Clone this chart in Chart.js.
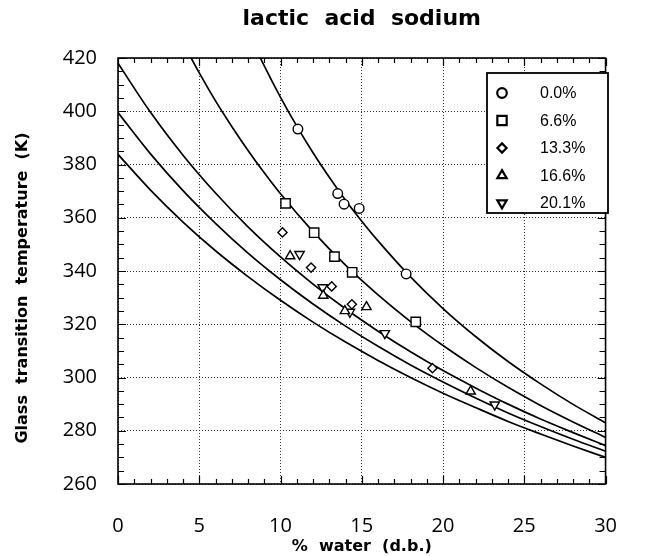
<!DOCTYPE html>
<html><head><meta charset="utf-8">
<script src="https://cdn.jsdelivr.net/npm/chart.js@4/dist/chart.umd.min.js"></script>
<style>html,body{margin:0;padding:0;background:#fff;}</style>
</head><body>
<canvas id="c" width="647" height="556"></canvas>
<script>
// ---- text ----
const chartTitle = 'lactic  acid  sodium';
const xTitle = '%  water  (d.b.)';
const yTitle = 'Glass  transition  temperature  (K)';
const seriesLabels = ['0.0%', '6.6%', '13.3%', '16.6%', '20.1%'];
const pointStyles = ['circle', 'rect', 'rectRot', 'triangle', 'triangle'];
const pointRotations = [0, 0, 0, 0, 180];
const pointSizes = [4.8, 6.6, 4.6, 5.4, 5.4];

// ---- axis ticks ----
const xTicks = [0, 5, 10, 15, 20, 25, 30];
const yTicks = [260, 280, 300, 320, 340, 360, 380, 400, 420];

// ---- measured points (% water d.b., Tg K) ----
const water00 = [11.07, 13.52, 13.91, 14.84, 17.73];
const tg00    = [393.3, 369.1, 365.1, 363.5, 338.9];
const water66 = [10.31, 12.07, 13.32, 14.41, 18.32];
const tg66    = [365.4, 354.4, 345.4, 339.5, 320.9];
const water133 = [10.12, 11.88, 13.15, 14.39, 19.35];
const tg133    = [354.5, 341.3, 334.2, 327.5, 303.5];
const water166 = [10.59, 12.63, 13.96, 15.29, 21.70];
const tg166    = [345.6, 330.8, 325.0, 326.5, 294.8];
const water201 = [11.17, 12.59, 14.27, 16.42, 23.18];
const tg201    = [346.3, 333.8, 324.6, 316.6, 289.8];

// ---- fitted curves ----
const curveW00 = [8, 9, 10, 11, 12, 13, 14, 15, 16, 18, 20, 22, 24, 26, 28, 30];
const curveT00 = [429.8, 417.0, 405.2, 394.4, 384.4, 375.2, 366.6, 358.7, 351.3, 337.8, 325.9, 315.4, 306.0, 297.6, 289.9, 283.0];
const curveW66 = [4, 5, 6, 7, 8, 9, 10, 12, 14, 16, 18, 20, 22, 24, 26, 28, 30];
const curveT66 = [425.7, 414.4, 403.9, 394.3, 385.3, 376.9, 369.0, 354.8, 342.2, 331.0, 321.0, 312.0, 303.8, 296.3, 289.5, 283.3, 277.5];
const curveW = [0, 2, 4, 6, 8, 10, 12, 14, 16, 18, 20, 22, 24, 26, 28, 30];
const curveT133 = [418.0, 399.6, 383.5, 369.3, 356.6, 345.3, 335.1, 325.8, 317.4, 309.7, 302.6, 296.1, 290.0, 284.4, 279.3, 274.4];
const curveT166 = [399.5, 384.0, 370.2, 357.9, 346.7, 336.7, 327.6, 319.3, 311.7, 304.7, 298.3, 292.3, 286.7, 281.6, 276.8, 272.3];
const curveT201 = [383.8, 370.4, 358.4, 347.6, 337.9, 329.0, 320.8, 313.3, 306.4, 300.0, 294.1, 288.7, 283.5, 278.8, 274.3, 270.0];

const zip = (xs, ys) => xs.map((x, i) => ({ x: x, y: ys[i] }));

const markerSets = [
  [water00, tg00], [water66, tg66], [water133, tg133], [water166, tg166], [water201, tg201]
];
const curveSets = [
  [curveW00, curveT00], [curveW66, curveT66], [curveW, curveT133], [curveW, curveT166], [curveW, curveT201]
];

const datasets = [];
markerSets.forEach((s, i) => {
  datasets.push({
    label: seriesLabels[i],
    data: zip(s[0], s[1]),
    showLine: false,
    pointStyle: pointStyles[i],
    pointRotation: pointRotations[i],
    pointRadius: pointSizes[i],
    pointHoverRadius: pointSizes[i],
    pointBackgroundColor: '#fff',
    pointBorderColor: '#000',
    pointBorderWidth: 1.4,
    order: 0,
    isMarker: true
  });
});
curveSets.forEach((s, i) => {
  datasets.push({
    label: 'fit ' + seriesLabels[i],
    data: zip(s[0], s[1]),
    showLine: true,
    pointRadius: 0,
    borderColor: '#000',
    borderWidth: 1.7,
    tension: 0.4,
    cubicInterpolationMode: 'monotone',
    fill: false,
    order: 1
  });
});

const AREA = { left: 118, right: 628, top: 58, bottom: 484 };

const framePlugin = {
  id: 'framePlugin',
  afterDatasetsDraw(chart) {
    const ctx = chart.ctx;
    const xs = chart.scales.x, ys = chart.scales.y;
    const a = chart.chartArea;
    ctx.save();
    ctx.strokeStyle = '#000';
    ctx.lineWidth = 1.6;
    ctx.strokeRect(a.left, a.top, a.right - a.left, a.bottom - a.top);
    ctx.lineWidth = 1.2;
    ctx.beginPath();
    for (let v = xs.min; v <= xs.max; v += 1) {
      const px = Math.round(xs.getPixelForValue(v)) + 0.5;
      const len = (v % 5 === 0) ? 8 : 5;
      ctx.moveTo(px, a.bottom); ctx.lineTo(px, a.bottom - len);
      ctx.moveTo(px, a.top); ctx.lineTo(px, a.top + len);
    }
    for (let v = ys.min; v <= ys.max; v += 5) {
      const py = Math.round(ys.getPixelForValue(v)) + 0.5;
      const len = (v % 20 === 0) ? 8 : 6;
      ctx.moveTo(a.left, py); ctx.lineTo(a.left + len, py);
      ctx.moveTo(a.right, py); ctx.lineTo(a.right - len, py);
    }
    ctx.stroke();

    // legend box
    const bx = 487, by = 73, bw = 121, bh = 140;
    ctx.fillStyle = '#fff';
    ctx.fillRect(bx, by, bw, bh);
    ctx.lineWidth = 1.8;
    ctx.strokeRect(bx, by, bw, bh);
    const rows = [93, 120.5, 148, 175.5, 203];
    const markers = chart.data.datasets.filter(d => d.isMarker);
    markers.forEach((d, i) => {
      ctx.strokeStyle = '#000';
      ctx.fillStyle = '#fff';
      ctx.lineWidth = 2.2;
      Chart.helpers.drawPoint(ctx, {
        pointStyle: d.pointStyle, rotation: d.pointRotation,
        radius: d.pointRadius, borderWidth: 2.2
      }, 502, rows[i]);
      ctx.fillStyle = '#000';
      ctx.font = '16px "Liberation Sans", Arial, sans-serif';
      ctx.textAlign = 'left';
      ctx.textBaseline = 'middle';
      ctx.fillText(d.label, 540, rows[i] + 1);
    });

    // titles
    ctx.fillStyle = '#000';
    ctx.textAlign = 'center';
    ctx.textBaseline = 'middle';
    ctx.font = 'bold 22px "DejaVu Sans", sans-serif';
    ctx.fillText(chartTitle, (a.left + a.right) / 2, 19);
    ctx.font = 'bold 16px "DejaVu Sans", sans-serif';
    ctx.fillText(xTitle, (a.left + a.right) / 2, 547);
    ctx.translate(23, 288);
    ctx.rotate(-Math.PI / 2);
    ctx.fillText(yTitle, 0, 0);
    ctx.restore();
  }
};

new Chart(document.getElementById('c'), {
  type: 'scatter',
  data: { datasets: datasets },
  options: {
    responsive: false,
    animation: false,
    devicePixelRatio: 1,
    layout: { padding: { left: 0, top: AREA.top, right: 647 - AREA.right, bottom: 0 } },
    plugins: { legend: { display: false }, title: { display: false }, tooltip: { enabled: false } },
    scales: {
      x: {
        type: 'linear', min: 0, max: 30,
        afterBuildTicks: s => { s.ticks = xTicks.map(v => ({ value: v })); },
        afterFit: s => { s.height = 556 - AREA.bottom; },
        ticks: { color: '#000', padding: 30, maxRotation: 0, autoSkip: false,
                 font: { family: '"Open Sans", sans-serif', size: 20 } },
        grid: { color: '#333', lineWidth: 1, drawTicks: false },
        border: { display: false, dash: [1, 2] }
      },
      y: {
        type: 'linear', min: 260, max: 420,
        afterBuildTicks: s => { s.ticks = yTicks.map(v => ({ value: v })); },
        afterFit: s => { s.width = AREA.left; },
        ticks: { color: '#000', padding: 21, autoSkip: false,
                 font: { family: '"Open Sans", sans-serif', size: 20 } },
        grid: { color: '#333', lineWidth: 1, drawTicks: false },
        border: { display: false, dash: [1, 2] }
      }
    }
  },
  plugins: [framePlugin]
});
</script>
</body></html>
